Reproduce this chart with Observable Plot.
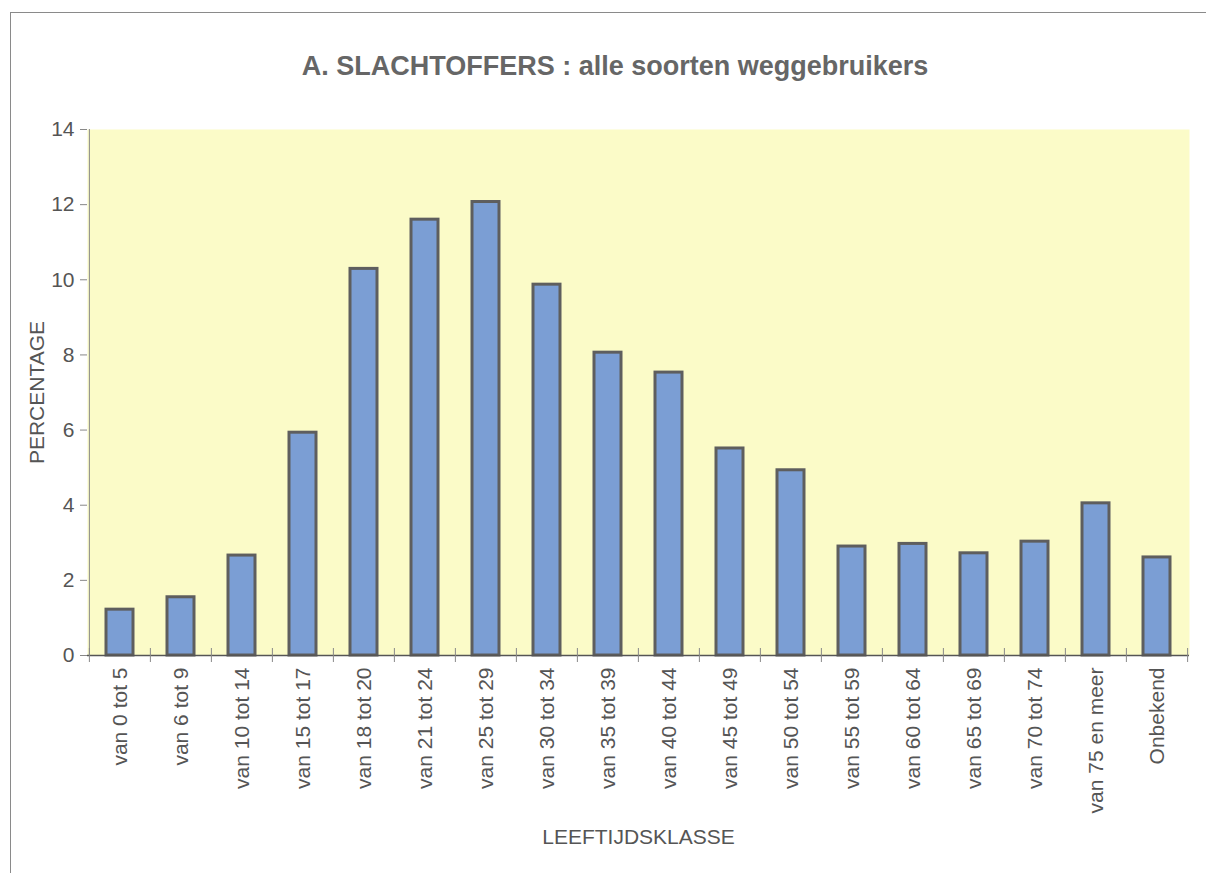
<!DOCTYPE html>
<html>
<head>
<meta charset="utf-8">
<script src="https://cdn.jsdelivr.net/npm/d3@7"></script>
<script src="https://cdn.jsdelivr.net/npm/@observablehq/plot@0.6"></script>
<style>
  html, body { margin: 0; padding: 0; background: #ffffff; }
  #wrap { position: relative; width: 1206px; height: 873px; overflow: hidden; }
  #border { position: absolute; left: 10px; top: 12px; width: 1300px; height: 900px;
            border-top: 1px solid #8a8a8a; border-left: 1px solid #8a8a8a; }
  #title { position: absolute; left: 0; top: 0; width: 1230px; height: 100px; line-height: 132px;
           text-align: center; font-family: "Liberation Sans", Arial, sans-serif; font-weight: bold;
           font-size: 27px; color: #666666; }
  #chart { position: absolute; left: 0; top: 100px; }
</style>
</head>
<body>
<div id="wrap">
  <div id="border"></div>
  <div id="title">A. SLACHTOFFERS : alle soorten weggebruikers</div>
  <div id="chart"></div>
</div>
<script>
const categories = ["van 0 tot 5", "van 6 tot 9", "van 10 tot 14", "van 15 tot 17", "van 18 tot 20",
  "van 21 tot 24", "van 25 tot 29", "van 30 tot 34", "van 35 tot 39", "van 40 tot 44", "van 45 tot 49",
  "van 50 tot 54", "van 55 tot 59", "van 60 tot 64", "van 65 tot 69", "van 70 tot 74", "van 75 en meer", "Onbekend"];
const percentages = [1.22, 1.55, 2.66, 5.93, 10.29, 11.6, 12.07, 9.87, 8.06, 7.53, 5.51, 4.93, 2.9, 2.97, 2.72, 3.03, 4.05, 2.61];
const yTicks = [0, 2, 4, 6, 8, 10, 12, 14];
const yLabel = "PERCENTAGE";
const xLabel = "LEEFTIJDSKLASSE";

const data = categories.map((c, i) => ({cat: c, value: percentages[i]}));

const W = 1206, H = 773, mL = 87, mR = 17, mT = 29, mB = 218;
const step = (W - mL - mR) / categories.length;

const plot = Plot.plot({
  width: W, height: H,
  marginLeft: mL, marginRight: mR, marginTop: mT, marginBottom: mB,
  style: {fontFamily: "'Liberation Sans', Arial, sans-serif", color: "#555555", background: "transparent"},
  x: {domain: categories, paddingInner: 0.56, paddingOuter: 0.28, label: null},
  y: {domain: [0, 14], label: null},
  marks: [
    Plot.frame({fill: "#fbfbc8", stroke: null}),
    Plot.barY(data, {x: "cat", y: "value", fill: "#7b9ed4", stroke: "#5e5e5e", strokeWidth: 3}),
    Plot.ruleY([0], {stroke: "#555555", strokeWidth: 1.5}),
    Plot.ruleX([categories[0]], {x: d => d, y1: 0, y2: 14, dx: -step / 2, stroke: "#888888"}),
    Plot.axisY({ticks: yTicks, tickSize: 7, tickPadding: 6, fontSize: 21, stroke: "#888888", label: null}),
    Plot.axisX({tickSize: 0, tickRotate: -90, tickPadding: 12, fontSize: 21, label: null}),
    Plot.ruleX(categories, {x: d => d, y1: 0, y2: 0, insetTop: -7, insetBottom: -7, dx: -step / 2, stroke: "#888888"}),
    Plot.ruleX([categories[categories.length - 1]], {x: d => d, y1: 0, y2: 0, insetTop: -7, insetBottom: -7, dx: step / 2, stroke: "#888888"}),
    Plot.text([yLabel], {frameAnchor: "left", dx: -50, rotate: -90, fontSize: 21, fill: "#555555", textAnchor: "middle"}),
    Plot.text([xLabel], {frameAnchor: "bottom", dy: 188, fontSize: 21, fill: "#555555"})
  ]
});
document.getElementById("chart").appendChild(plot);
</script>
</body>
</html>
